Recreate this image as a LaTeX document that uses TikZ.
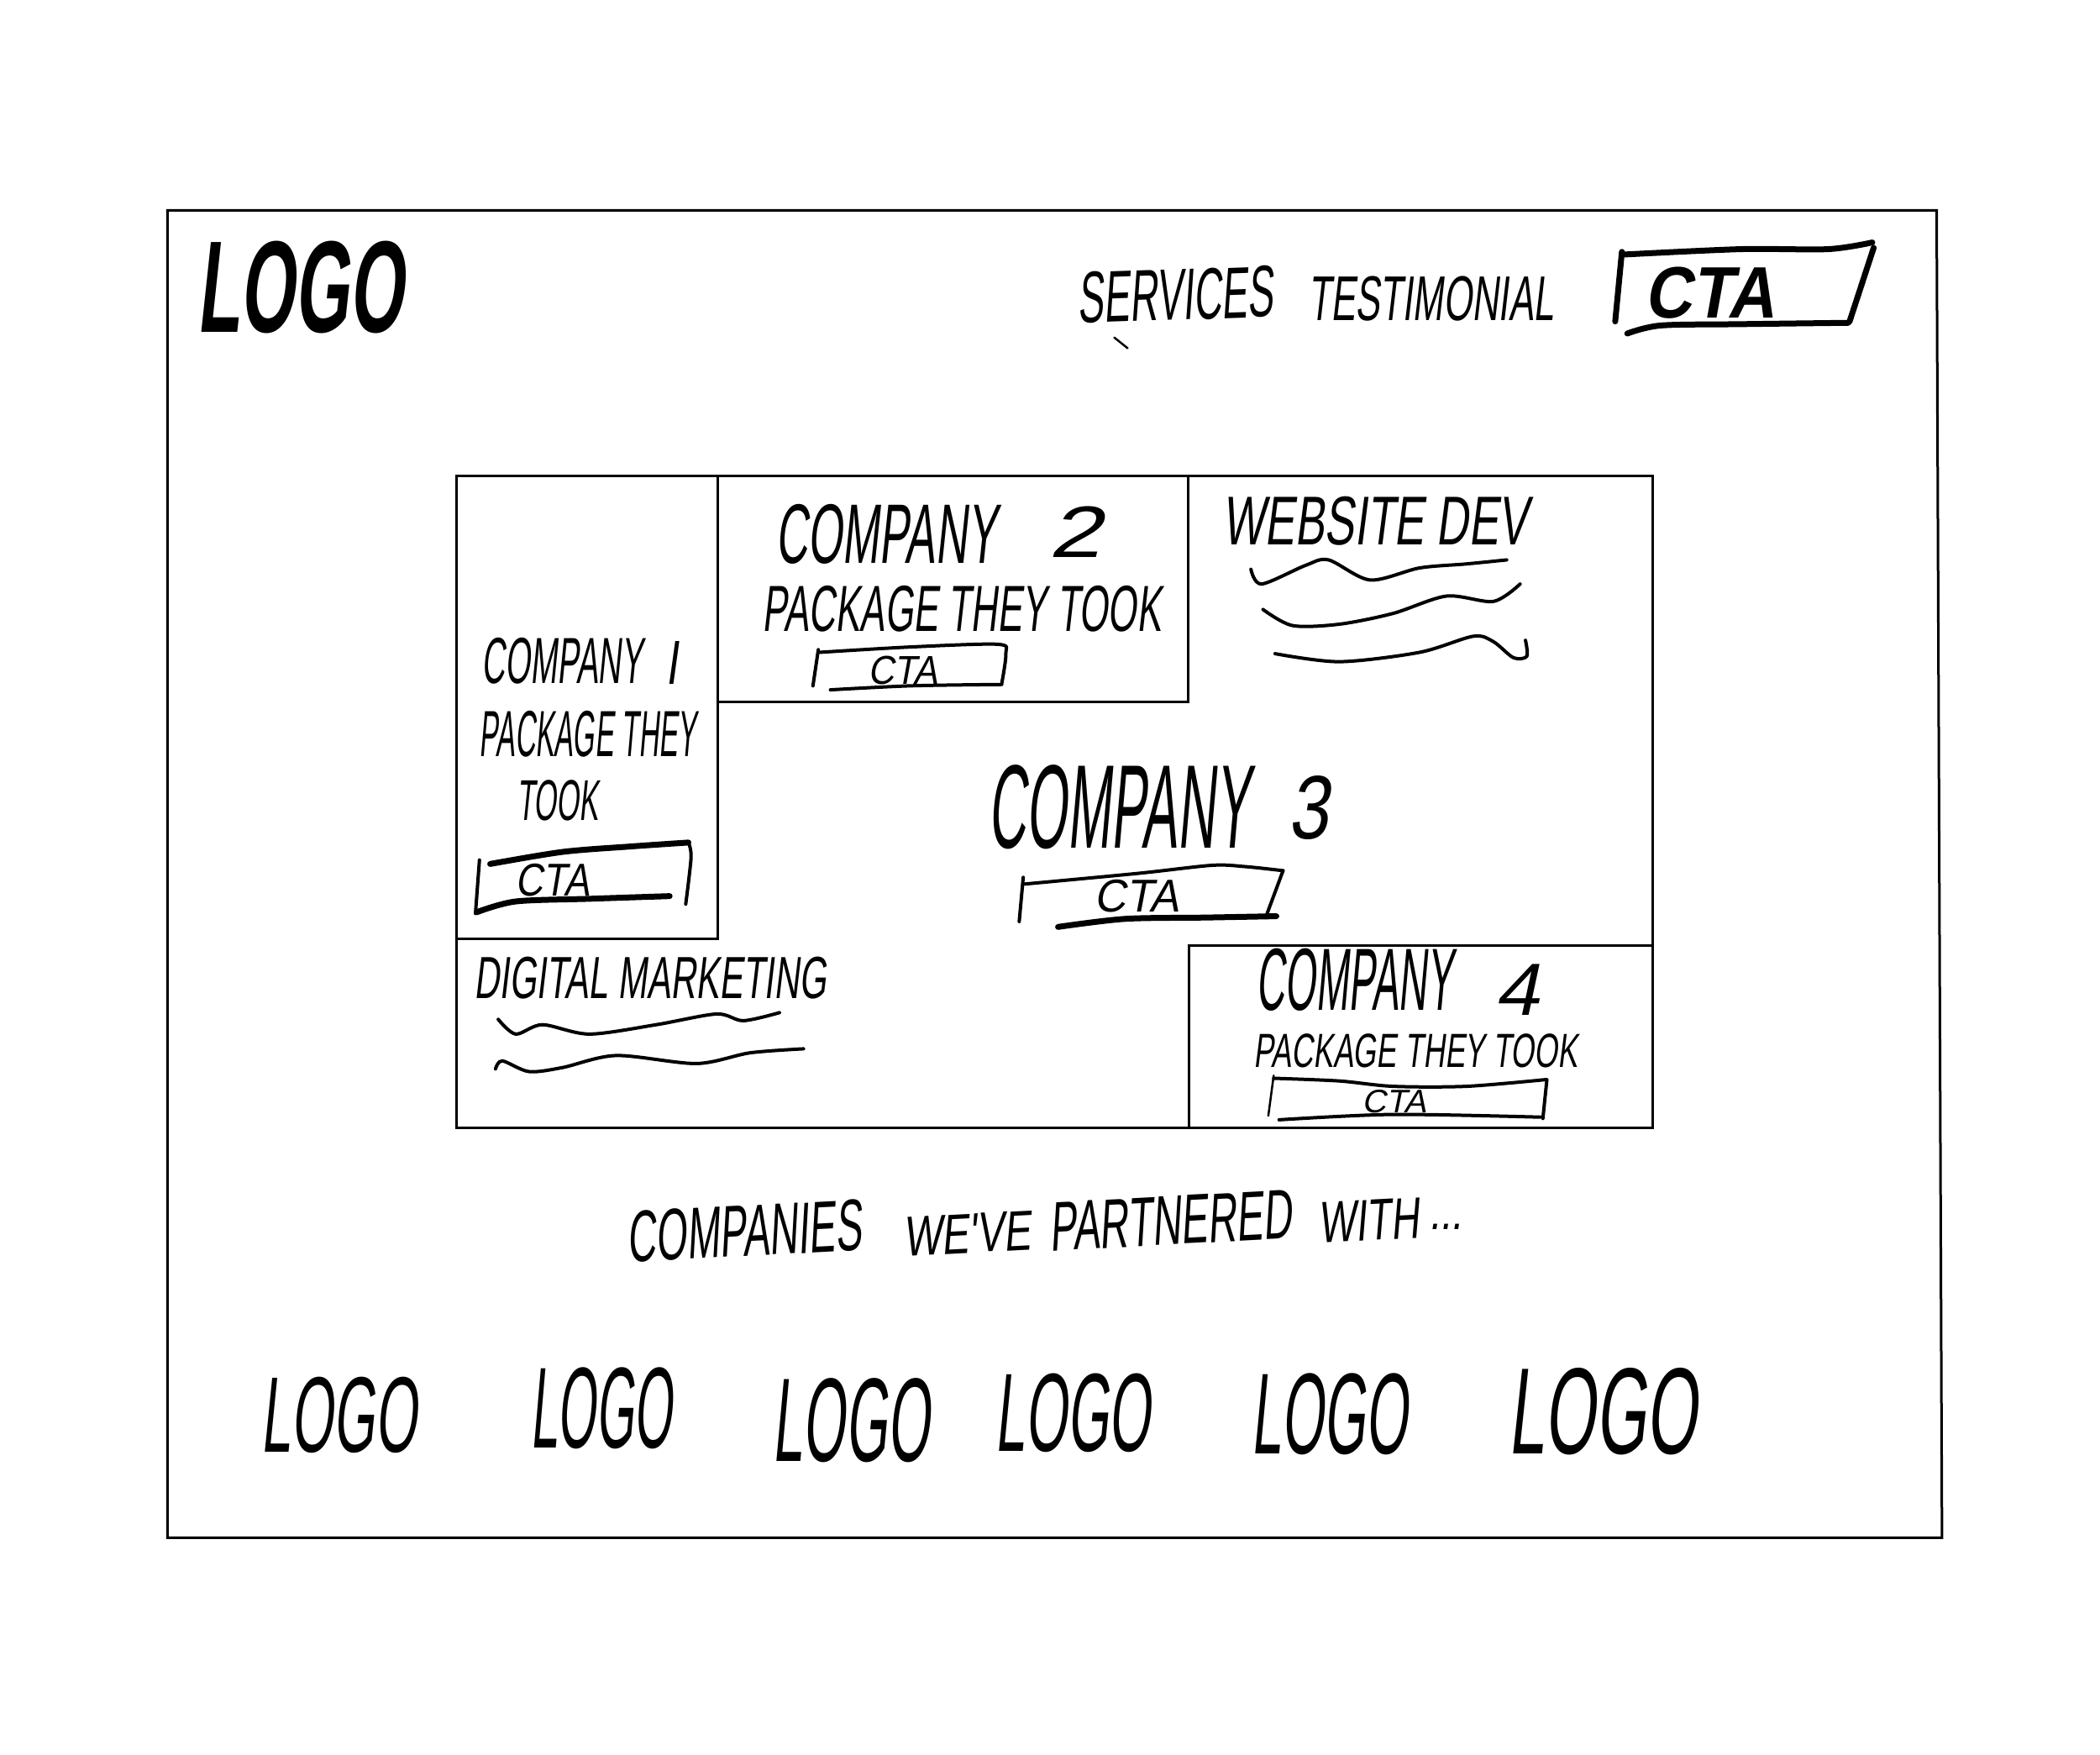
\documentclass[tikz,border=0pt]{standalone}
\usepackage{graphicx}
\usepackage{fontspec}
\newfontfamily\hand[FakeStretch=0.6,FakeSlant=0.12]{Liberation Sans}
\newlength\ux
\setlength\ux{1.59439pt}
\newcommand\fitbox[3]{\resizebox{#1\ux}{#2\ux}{\hand #3}}
\newcommand\fitboxb[3]{\resizebox{#1\ux}{#2\ux}{\hand\bfseries #3}}
\tikzset{
  txt/.style={anchor=south west,inner sep=0pt,outer sep=0pt,text=black},
  frame/.style={draw=black,line width=3pt,line cap=rect,line join=miter},
  pen/.style={draw=black,line width=4pt,line cap=round,line join=round},
  thickpen/.style={draw=black,line width=7pt,line cap=round,line join=round},
  thinpen/.style={draw=black,line width=2.5pt,line cap=round,line join=round}
}
\begin{document}
\begin{tikzpicture}[x=1.59439pt,y=-1.59439pt]
\useasboundingbox (0,0) rectangle (1568,1309.6);
\fill[white] (0,0) rectangle (1568,1309.6);
% frames
\draw[frame] (125,157) -- (1446,157) -- (1450,1148) -- (125,1148) -- cycle;
\draw[frame] (341,355) -- (1234,355) -- (1234,842) -- (341,842) -- cycle;
\draw[frame] (536,355) -- (536,701);
\draw[frame] (341,701) -- (536,701);
\draw[frame] (536,524) -- (887,524) -- (887,355);
\draw[frame] (888,842) -- (888,706) -- (1234,706);
% header
\node (logomain) [txt] at (147,249) {\fitboxb{154}{68}{LOGO}};
\node (services) [txt,rotate=2] at (805,242) {\fitbox{146}{38}{SERVICES}};
\node (testimonial) [txt] at (977,240) {\fitbox{183}{33}{TESTIMONIAL}};
\node (ctamain) [txt] at (1228,238) {\fitboxb{97}{38}{CTA}};
\draw[thinpen] (832,252) -- (842,260);
\draw[thickpen] (1211,188) -- (1206,240);
\draw[thickpen] plot[smooth] coordinates {(1213,190) (1300,186) (1365,186) (1398,181)};
\draw[thickpen] (1399,185) -- (1381,240);
\draw[thickpen] plot[smooth] coordinates {(1215,249) (1240,243) (1300,242) (1380,241)};
% company 2
\node (comp2) [txt] at (579,421) {\fitbox{165}{44}{COMPANY}};
\node (num2) [txt] at (783,416) {\fitbox{39}{38}{2}};
\node (pack2) [txt] at (569,472) {\fitbox{298}{34}{PACKAGE THEY TOOK}};
\node (cta2) [txt] at (648,511) {\fitbox{52}{21}{CTA}};
\draw[pen] (611,485) -- (607,512);
\draw[pen] plot[smooth] coordinates {(612,487) (680,483) (745,481) (751,488) (748,510)};
\draw[pen] plot[smooth] coordinates {(620,515) (680,512) (748,511)};
% website dev
\node (webdev) [txt] at (913,407) {\fitbox{228}{36}{WEBSITE DEV}};
\draw[pen] plot[smooth] coordinates {(934,425) (942,436) (975,422) (992,418) (1023,433) (1060,424) (1095,421) (1125,418)};
\draw[pen] plot[smooth] coordinates {(943,455) (965,467) (1000,466) (1040,458) (1080,445) (1115,449) (1135,436)};
\draw[pen] plot[smooth] coordinates {(952,488) (1000,494) (1060,487) (1100,475) (1115,479) (1130,491) (1140,490) (1139,478)};
% company 1
\node (comp1) [txt] at (360,511) {\fitbox{120}{34}{COMPANY}};
\node (num1) [txt] at (497,511) {\fitbox{9}{32}{I}};
\node (pack1) [txt] at (358,565) {\fitbox{162}{34}{PACKAGE THEY}};
\node (took1) [txt] at (386,613) {\fitbox{61}{30}{TOOK}};
\node (cta1) [txt] at (385,669) {\fitbox{55}{24}{CTA}};
\draw[pen] (358,642) -- (355,682);
\draw[thickpen] plot[smooth] coordinates {(366,645) (420,636) (470,632) (514,629)};
\draw[pen] plot[smooth] coordinates {(514,629) (516,640) (512,675)};
\draw[thickpen] plot[smooth] coordinates {(356,681) (385,673) (440,671) (500,669)};
% company 3
\node (comp3) [txt] at (738,634) {\fitbox{195}{62}{COMPANY}};
\node (num3) [txt] at (962,627) {\fitbox{30}{47}{3}};
\node (cta3) [txt] at (817,681) {\fitbox{63}{24}{CTA}};
\draw[pen] (764,655) -- (761,688);
\draw[pen] plot[smooth] coordinates {(765,660) (850,652) (905,646) (930,647) (958,650)};
\draw[pen] (958,650) -- (945,685);
\draw[thickpen] plot[smooth] coordinates {(790,692) (840,686) (900,685) (953,684)};
% digital marketing
\node (digital) [txt] at (354,746) {\fitbox{263}{31}{DIGITAL MARKETING}};
\draw[pen] plot[smooth] coordinates {(372,761) (385,772) (405,765) (440,772) (490,765) (535,757) (555,762) (582,756)};
\draw[pen] plot[smooth] coordinates {(370,798) (375,792) (395,800) (420,797) (460,788) (520,794) (560,786) (600,783)};
% company 4
\node (comp4) [txt] at (938,755) {\fitbox{147}{46}{COMPANY}};
\node (num4) [txt] at (1116,758) {\fitbox{33}{38}{4}};
\node (pack4) [txt] at (936,797) {\fitbox{242}{25}{PACKAGE THEY TOOK}};
\node (cta4) [txt] at (1017,831) {\fitbox{48}{17}{CTA}};
\draw[thinpen] (951,803) -- (947,833);
\draw[pen] plot[smooth] coordinates {(951,805) (1000,807) (1040,811) (1095,811) (1154,806)};
\draw[pen] (1155,806) -- (1152,835);
\draw[pen] plot[smooth] coordinates {(955,836) (1040,832) (1150,834)};
% partners
\node (companies) [txt,rotate=3] at (469,943) {\fitbox{175}{38}{COMPANIES}};
\node (weve) [txt,rotate=3] at (675,938) {\fitbox{95}{29}{WE'VE}};
\node (partnered) [txt,rotate=3] at (784,934) {\fitbox{181}{36}{PARTNERED}};
\node (withword) [txt,rotate=3] at (985,928) {\fitbox{75}{30}{WITH}};
\node (dots) [txt] at (1067,918) {\fitbox{25}{4}{...}};
% logos
\node (logoa) [txt] at (195,1085) {\fitbox{116}{56}{LOGO}};
\node (logob) [txt] at (396,1082) {\fitbox{106}{60}{LOGO}};
\node (logoc) [txt] at (577,1092) {\fitbox{117}{62}{LOGO}};
\node (logod) [txt] at (743,1084) {\fitbox{116}{58}{LOGO}};
\node (logoe) [txt] at (934,1086) {\fitbox{117}{60}{LOGO}};
\node (logof) [txt] at (1126,1086) {\fitbox{141}{64}{LOGO}};
\end{tikzpicture}
\end{document}
